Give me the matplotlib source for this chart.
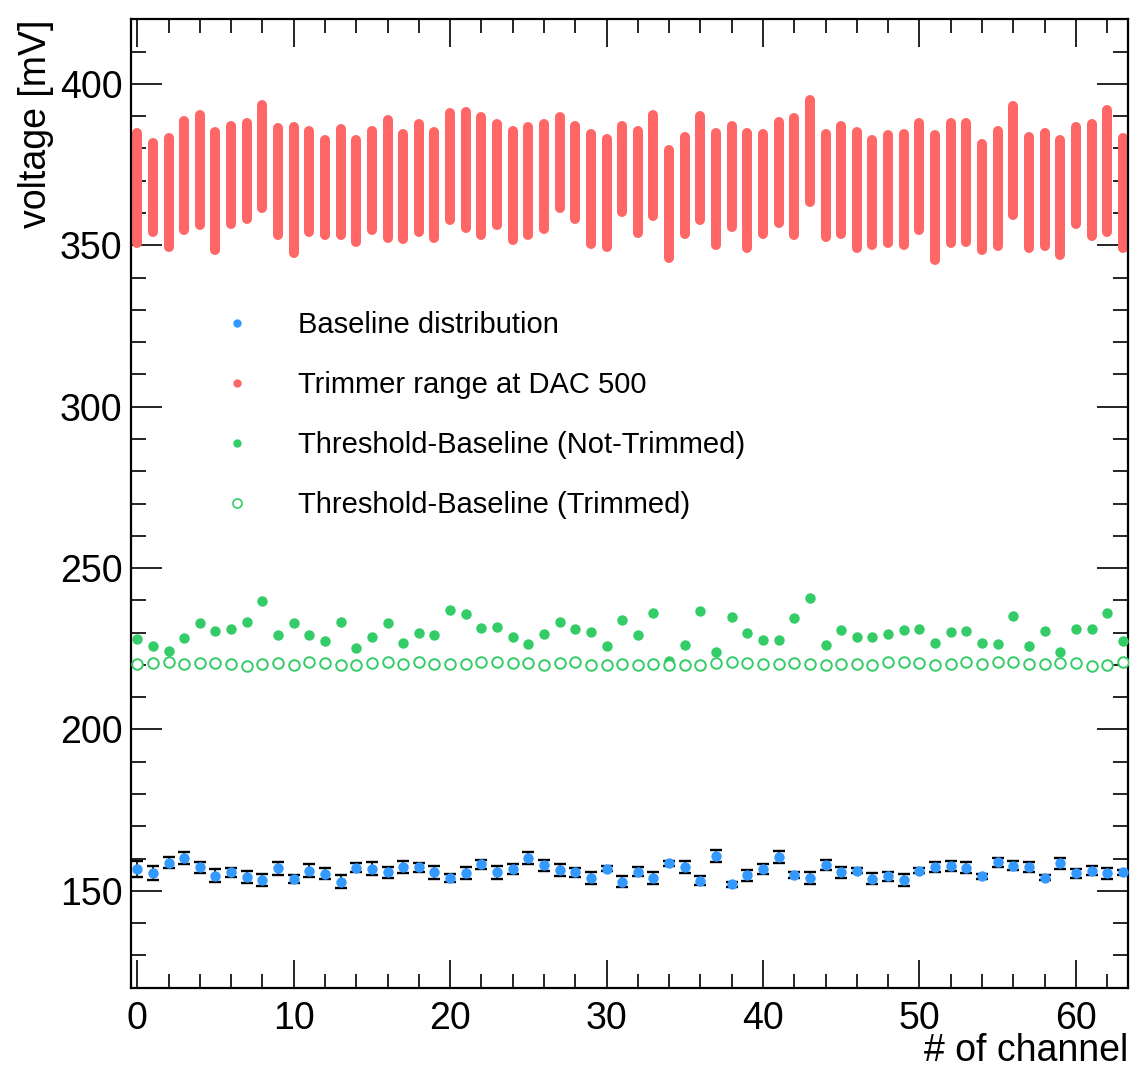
import matplotlib
matplotlib.use("Agg")
import matplotlib.pyplot as plt
from matplotlib.lines import Line2D
from matplotlib.ticker import MultipleLocator
import numpy as np

plt.rcParams['font.family'] = ['Liberation Sans', 'DejaVu Sans']

channel = np.arange(64)

# trimmer range at DAC 500: upper / lower edge per channel [mV]
trim_high = [384.9, 381.6, 383.1, 388.6, 390.3, 385.2, 387.0, 388.0, 393.4, 386.2,
             386.5, 385.5, 382.7, 386.1, 382.5, 385.5, 388.8, 384.4, 387.5, 385.0,
             390.9, 391.2, 389.8, 387.6, 385.4, 386.7, 387.5, 389.8, 386.8, 384.4,
             382.8, 387.0, 385.3, 390.3, 379.6, 383.6, 390.1, 384.9, 387.0, 384.7,
             384.5, 388.3, 389.5, 394.9, 384.4, 386.8, 385.2, 382.6, 384.1, 384.6,
             387.8, 384.1, 388.0, 387.9, 381.3, 385.5, 393.0, 383.4, 384.8, 382.5,
             386.7, 387.7, 391.8, 383.3]
trim_low = [350.8, 354.2, 349.5, 354.7, 356.3, 348.5, 356.7, 358.2, 361.5, 353.2,
            347.7, 354.0, 353.1, 353.3, 351.0, 354.6, 352.2, 352.0, 354.0, 352.2,
            357.8, 355.5, 353.3, 356.4, 351.5, 353.1, 354.9, 361.5, 358.0, 350.4,
            349.6, 360.3, 353.9, 359.0, 346.2, 353.4, 357.7, 350.2, 355.6, 349.2,
            353.4, 356.8, 353.3, 363.3, 352.7, 353.4, 349.2, 350.1, 350.7, 350.1,
            354.6, 345.3, 350.8, 351.1, 348.5, 349.9, 359.4, 349.0, 349.7, 346.9,
            356.7, 352.8, 354.0, 349.2]

# threshold - baseline, before and after trimming [mV]
not_trimmed = [228.0, 225.9, 224.3, 228.3, 232.9, 230.5, 231.2, 233.4, 239.8, 229.4,
               233.0, 229.3, 227.4, 233.2, 225.2, 228.6, 233.1, 226.8, 229.9, 229.3,
               236.9, 235.7, 231.5, 231.6, 228.7, 226.4, 229.5, 233.3, 231.0, 230.2,
               225.8, 234.0, 229.3, 236.2, 221.1, 226.1, 236.7, 224.0, 235.0, 229.9,
               227.6, 227.6, 234.5, 240.8, 226.3, 230.9, 228.8, 228.7, 229.5, 230.9,
               231.2, 226.7, 230.1, 230.4, 226.9, 226.6, 235.1, 226.0, 230.5, 224.0,
               231.1, 231.1, 236.2, 227.4]
trimmed = [220.2, 220.6, 220.8, 220.3, 220.6, 220.6, 220.3, 219.8, 220.3, 220.5,
           220.1, 220.9, 220.5, 220.1, 220.1, 220.5, 220.9, 220.4, 220.9, 220.4,
           220.4, 220.3, 220.8, 220.8, 220.5, 220.6, 219.9, 220.5, 220.8, 220.0,
           220.1, 220.2, 220.0, 220.2, 220.0, 220.1, 219.9, 220.5, 220.8, 220.5,
           220.3, 220.3, 220.6, 220.4, 219.9, 220.2, 220.4, 220.0, 220.9, 220.8,
           220.7, 220.1, 220.2, 220.8, 220.2, 220.8, 221.0, 220.4, 220.4, 220.5,
           220.6, 219.8, 219.9, 220.9]

# baseline mean and spread [mV]
baseline = [156.8, 155.5, 158.7, 160.2, 157.3, 154.7, 155.8, 154.4, 153.4, 157.0,
            153.6, 156.3, 155.3, 152.8, 157.2, 156.8, 155.7, 157.3, 157.3, 155.7,
            154.0, 155.5, 158.3, 155.7, 156.7, 160.2, 158.0, 156.4, 155.7, 154.0,
            156.9, 152.9, 156.0, 153.9, 158.6, 157.3, 153.2, 160.9, 152.1, 154.8,
            156.7, 160.5, 154.9, 153.9, 158.1, 155.7, 156.3, 153.7, 154.5, 153.4,
            156.3, 157.3, 157.7, 157.2, 154.5, 158.8, 157.8, 157.3, 154.1, 158.5,
            155.4, 156.3, 155.4, 155.8]
baseline_err = [2.4, 2.1, 1.7, 1.9, 1.7, 2.0, 1.4, 1.9, 1.9, 2.0,
                1.2, 2.0, 1.7, 2.0, 1.4, 2.0, 1.7, 1.9, 1.3, 1.9,
                1.3, 1.9, 1.4, 1.9, 1.5, 1.8, 1.7, 1.8, 1.5, 1.8,
                0.8, 1.7, 1.5, 1.8, 0.8, 1.9, 1.5, 1.8, 0.8, 1.7,
                1.5, 1.8, 0.8, 1.8, 1.5, 1.7, 0.8, 1.7, 1.5, 1.8,
                0.8, 1.5, 1.5, 1.7, 0.8, 1.5, 1.4, 1.5, 0.8, 1.7,
                1.5, 1.3, 1.7, 0.8]

red = '#ff6666'
blue = '#3399ff'
green = '#33cc66'

fig = plt.figure(figsize=(11.32, 10.72), dpi=100)
ax = fig.add_axes([0.1157, 0.0786, 0.881, 0.9034])

ax.vlines(channel, trim_low, trim_high, color=red, linewidth=7.2,
          capstyle='round', zorder=2)
ax.plot(channel, not_trimmed, 'o', color=green, ms=7.5, mec='none', zorder=3)
ax.plot(channel, trimmed, 'o', mfc='white', mec=green, mew=1.4, ms=7.6, zorder=4)
ax.errorbar(channel, baseline, yerr=baseline_err, fmt='o', color=blue, ms=7.5,
            mec='none', ecolor='black', elinewidth=1.2, capsize=4.5, capthick=1.7,
            zorder=5)

ax.set_xlim(-0.4, 63.35)
ax.set_ylim(120, 420)

ax.xaxis.set_major_locator(MultipleLocator(10))
ax.xaxis.set_minor_locator(MultipleLocator(2))
ax.yaxis.set_major_locator(MultipleLocator(50))
ax.yaxis.set_minor_locator(MultipleLocator(10))
ax.tick_params(which='both', direction='in', top=True, right=True, width=1.2,
               labelsize=27)
ax.tick_params(axis='x', which='major', length=20, pad=9.5)
ax.tick_params(axis='x', which='minor', length=10)
ax.tick_params(axis='y', which='major', length=22, pad=6)
ax.tick_params(axis='y', which='minor', length=11)
for s in ax.spines.values():
    s.set_linewidth(1.6)

ax.set_xlabel('# of channel', fontsize=27, loc='right', labelpad=-3)
ax.set_ylabel('voltage [mV]', fontsize=27, loc='top', labelpad=4)

handles = [
    Line2D([], [], ls='none', marker='o', color=blue, ms=6, mec='none'),
    Line2D([], [], ls='none', marker='o', color=red, ms=6, mec='none'),
    Line2D([], [], ls='none', marker='o', color=green, ms=6, mec='none'),
    Line2D([], [], ls='none', marker='o', mfc='none', mec=green, mew=1.2, ms=6.5),
]
labels = ['Baseline distribution', 'Trimmer range at DAC 500',
          'Threshold-Baseline (Not-Trimmed)', 'Threshold-Baseline (Trimmed)']
ax.legend(handles, labels, loc='upper left', bbox_to_anchor=(0.077, 0.699),
          frameon=False, fontsize=21, handlelength=2, handletextpad=1.1,
          labelspacing=1.1, borderpad=0, borderaxespad=0)

fig.savefig('out.png', dpi=100)
